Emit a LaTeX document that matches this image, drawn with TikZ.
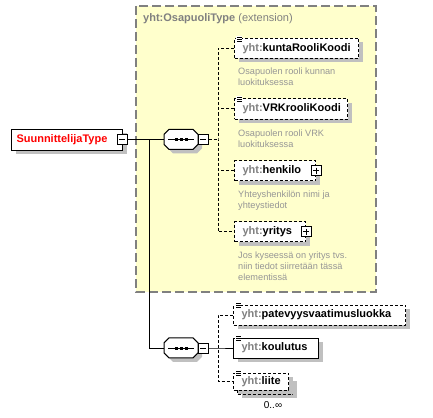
\documentclass[tikz,border=0pt]{standalone}
\usepackage{fontspec}
\setmainfont{Liberation Sans}
\usetikzlibrary{shadows,calc}
\definecolor{shadowgray}{RGB}{192,192,192}
\definecolor{extyellow}{RGB}{255,255,204}
\definecolor{extborder}{RGB}{128,128,128}
\definecolor{nsgray}{RGB}{128,128,128}
\definecolor{descgray}{RGB}{150,150,150}
\newcommand\eltxt[2]{\makebox[#1][l]{\textcolor{nsgray}{yht:}#2}}
\newcommand\seqsym[3]{%
  \node[minimum width=34pt,minimum height=20pt,inner sep=0pt,anchor=west] (#1) at (#2,#3) {};
  \fill[shadowgray] ($(#1.north west)+(9,4)$) -- ++(24,0) -- ++(5,5) -- ++(0,10) -- ++(-5,5) -- ++(-24,0) -- ++(-5,-5) -- ++(0,-10) -- cycle;
  \draw[line width=1pt,fill=white] ($(#1.north west)+(5,0)$) -- ++(24,0) -- ++(5,5) -- ++(0,10) -- ++(-5,5) -- ++(-24,0) -- ++(-5,-5) -- ++(0,-10) -- cycle;
  \draw[line width=1pt] ($(#1.west)+(4,0)$) -- ($(#1.east)+(-4,0)$);
  \foreach \dx in {-5,0,5}{\fill ($(#1.center)+(\dx,0)+(-1.5,-1.5)$) rectangle ++(3,3);}
}
\newcommand\icon[1]{%
  \fill[white] ($(#1.north west)+(2,-2)$) rectangle ++(6,5);
  \foreach \dy in {-1,1,3}{\draw[line width=0.8pt] ($(#1.north west)+(3,\dy)$) -- ++(5,0);}
}
\begin{document}
\begin{tikzpicture}[x=1pt,y=-1pt,
  shad/.style={drop shadow={shadow xshift=4pt,shadow yshift=-4pt,fill=shadowgray,opacity=1}},
  elembox/.style={draw,fill=white,line width=1pt,anchor=west,minimum height=20pt,inner xsep=8pt,inner ysep=0pt,font=\fontsize{11}{13}\selectfont\bfseries,shad},
  optbox/.style={elembox,dash pattern=on 3pt off 2pt},
  expbox/.style={draw,fill=white,line width=1pt,minimum size=10pt,inner sep=0pt},
  conn/.style={line width=1pt},
  optconn/.style={line width=1pt,dash pattern=on 3pt off 2pt},
  desc/.style={anchor=base west,inner sep=0pt,align=left,text=descgray,font=\fontsize{9.2}{11}\selectfont},
]
\useasboundingbox (0,0) rectangle (433,417);
% extension area
\draw[extborder,line width=1.5pt,dash pattern=on 9pt off 4pt,fill=extyellow] (136,6) rectangle (376,292);
\node[anchor=base west,inner sep=0pt,text=nsgray,font=\fontsize{11}{13}\selectfont] (title) at (143,22) {\textbf{yht:OsapuoliType} (extension)};

% main element
\node[draw,fill=white,line width=1pt,anchor=west,minimum height=21pt,inner xsep=5pt,inner ysep=0pt,shad,font=\fontsize{11}{13}\selectfont\bfseries,text=red] (main) at (11,139.5) {\makebox[101pt][l]{SuunnittelijaType}};
\node[expbox] (m0) at (122,139.5) {};
\draw[line width=1pt] ($(m0.center)+(-3,0)$) -- ($(m0.center)+(3,0)$);

% sequence 1
\seqsym{seqA}{164}{139.5}
\node[expbox] (m1) at (203,139.5) {};
\draw[line width=1pt] ($(m1.center)+(-3,0)$) -- ($(m1.center)+(3,0)$);
\coordinate (br) at (149,139.5);
\coordinate (v1) at (218,139.5);

% children 1
\node[optbox] (kunta) at (234,48.5) {\eltxt{108pt}{kuntaRooliKoodi}};
\node[optbox] (vrk) at (234,109) {\eltxt{97pt}{VRKrooliKoodi}};
\node[optbox] (henk) at (234,170.5) {\eltxt{65pt}{henkilo}};
\node[optbox] (yrit) at (234,231.5) {\eltxt{55pt}{yritys}};
\icon{kunta}
\icon{vrk}
\node[expbox] (p1) at (henk.east) {};
\draw[line width=1pt] ($(p1.center)+(-3,0)$) -- ($(p1.center)+(3,0)$) ($(p1.center)+(0,-3)$) -- ($(p1.center)+(0,3)$);
\node[expbox] (p2) at (yrit.east) {};
\draw[line width=1pt] ($(p2.center)+(-3,0)$) -- ($(p2.center)+(3,0)$) ($(p2.center)+(0,-3)$) -- ($(p2.center)+(0,3)$);

\node[desc] (d1) at (238,86) {Osapuolen rooli kunnan\\luokituksessa};
\node[desc] (d2) at (238,147) {Osapuolen rooli VRK\\luokituksessa};
\node[desc] (d3) at (238,208) {Yhteyshenkilön nimi ja\\yhteystiedot};
\node[desc] (d4) at (238,280) {Jos kyseessä on yritys tvs.\\niin tiedot siirretään tässä\\elementissä};

% connectors 1
\draw[conn] (m0.east) -- (seqA.west);
\draw[optconn] (m1.east) -- (v1);
\draw[optconn] (kunta.west) -| (v1) |- (yrit.west);
\draw[optconn] (vrk.west) -- (vrk.west -| v1);
\draw[optconn] (henk.west) -- (henk.west -| v1);

% sequence 2
\seqsym{seqB}{164}{348}
\node[expbox] (m2) at (203,348) {};
\draw[line width=1pt] ($(m2.center)+(-3,0)$) -- ($(m2.center)+(3,0)$);
\coordinate (v2) at (218,348);
\draw[conn] (br) |- (seqB.west);

\node[optbox] (pat) at (233,315) {\eltxt{156pt}{patevyysvaatimusluokka}};
\node[elembox] (koul) at (233,348) {\eltxt{69pt}{koulutus}};
\node[optbox,minimum height=17pt] (liiteb) at (237,385.5) {\phantom{\eltxt{39pt}{liite}}};
\node[optbox,minimum height=17pt,drop shadow={opacity=0}] (liite) at (233,381.5) {\eltxt{39pt}{liite}};
\icon{pat}
\icon{koul}
\icon{liite}
\node[inner sep=0pt,font=\fontsize{10}{12}\selectfont] (card) at (273,405) {0..∞};

\draw[conn] (m2.east) -- (v2) -- (koul.west);
\draw[optconn] (pat.west) -| (v2) |- (liite.west);
\end{tikzpicture}
\end{document}
